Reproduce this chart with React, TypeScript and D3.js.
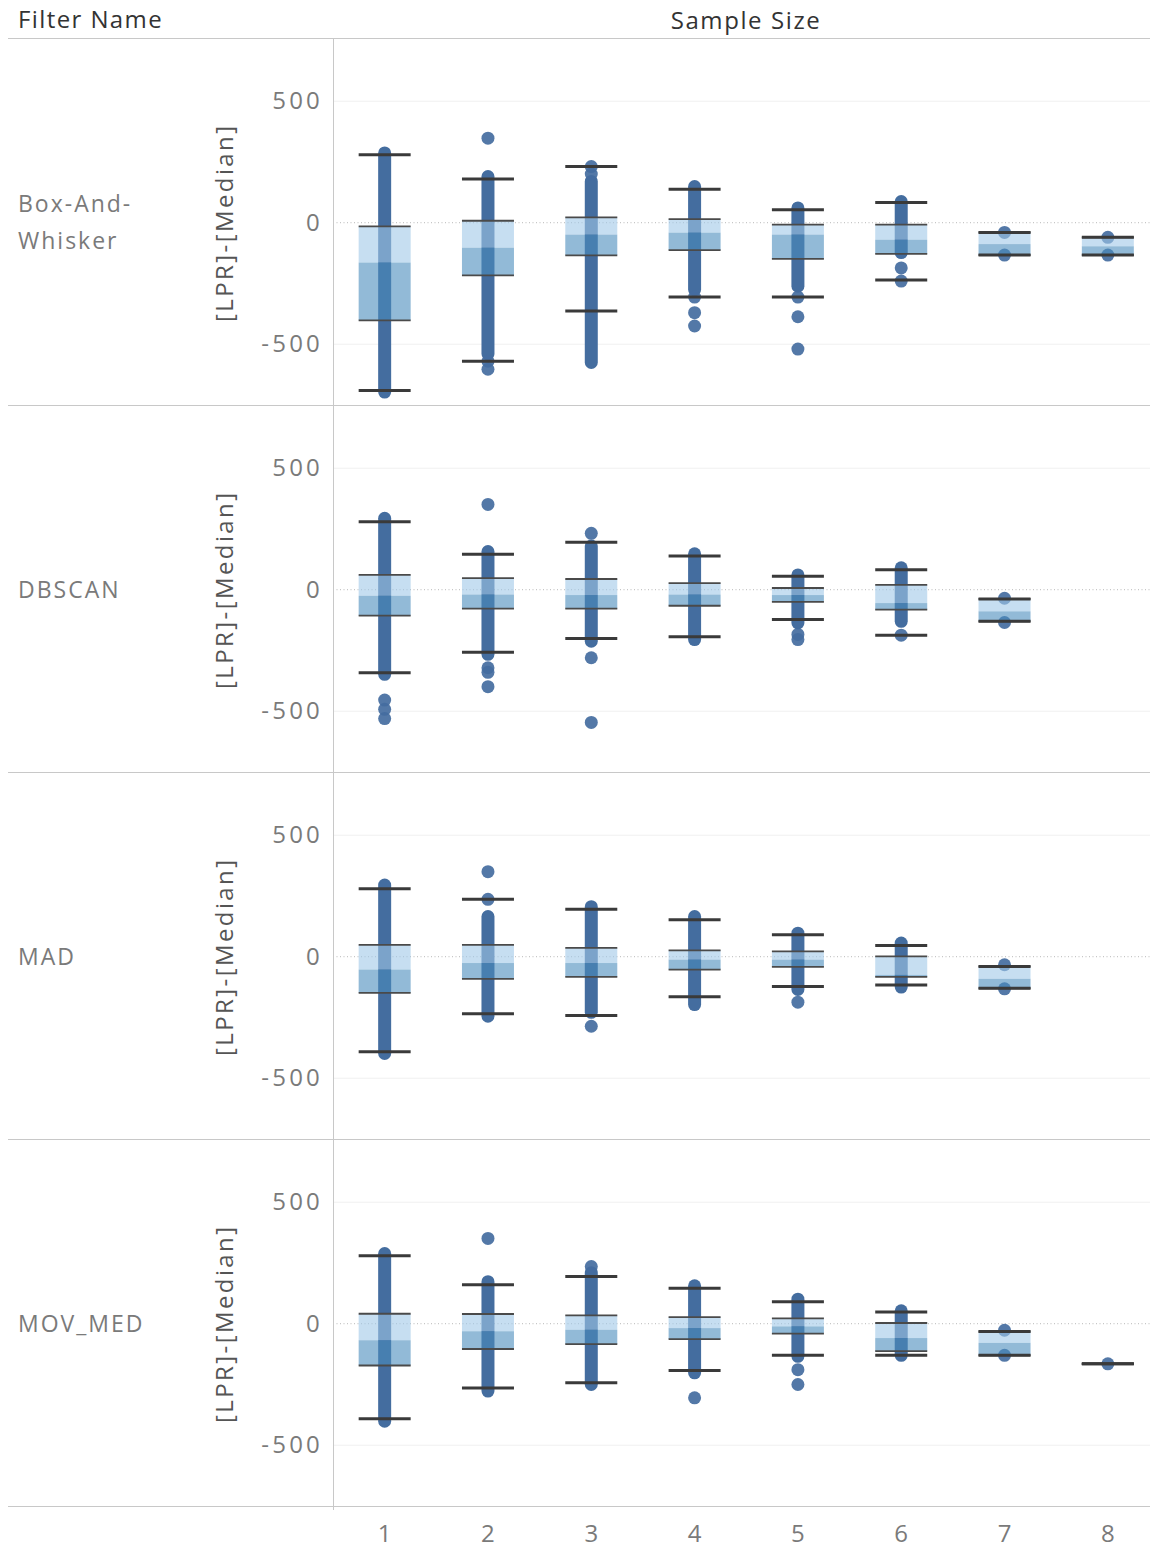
import React from "react";
import * as d3 from "d3";

// Sample sizes along the x axis
const sampleSizes = ["1", "2", "3", "4", "5", "6", "7", "8"];
const filterNames = ["Box-And-Whisker", "DBSCAN", "MAD", "MOV_MED"];
const yTicks = [500, 0, -500];

// Box stats per sample size: [lowerWhisker, q1, median, q3, upperWhisker]
type Stats = [number, number, number, number, number] | null;
const boxAndWhiskerStats: Stats[] = [
  [-690, -402, -164, -15, 280],
  [-570, -217, -103, 8, 180],
  [-363, -134, -49, 22, 231],
  [-306, -113, -41, 15, 138],
  [-306, -149, -49, -8, 53],
  [-236, -128, -70, -8, 83],
  [-133, -133, -88, -40, -40],
  [-133, -133, -97, -60, -60],
];
const dbscanStats: Stats[] = [
  [-342, -107, -25, 61, 280],
  [-257, -78, -20, 48, 146],
  [-201, -78, -22, 44, 195],
  [-194, -66, -20, 27, 139],
  [-123, -50, -22, 7, 55],
  [-187, -82, -55, 20, 82],
  [-130, -130, -89, -38, -38],
  null,
];
const madStats: Stats[] = [
  [-391, -149, -53, 49, 280],
  [-235, -91, -26, 49, 236],
  [-242, -83, -26, 36, 195],
  [-165, -53, -12, 26, 152],
  [-123, -42, -12, 22, 90],
  [-116, -83, -75, 1, 46],
  [-130, -130, -91, -40, -40],
  null,
];
const movMedStats: Stats[] = [
  [-391, -172, -68, 41, 280],
  [-264, -104, -31, 40, 160],
  [-243, -84, -25, 34, 194],
  [-193, -63, -18, 27, 146],
  [-130, -41, -11, 22, 90],
  [-130, -113, -59, 3, 48],
  [-130, -130, -79, -32, -32],
  [-165, -165, -165, -165, -165],
];

// Densely packed runs of observations: [sampleSize, high, low]
type Span = [string, number, number];
const boxAndWhiskerSpans: Span[] = [
  ["1", 287, -697],
  ["2", 190, -540],
  ["3", 170, -575],
  ["4", 149, -275],
  ["5", 61, -261],
  ["6", 87, -123],
];
const dbscanSpans: Span[] = [
  ["1", 294, -348],
  ["2", 157, -266],
  ["3", 180, -212],
  ["4", 148, -205],
  ["5", 61, -137],
  ["6", 90, -130],
];
const madSpans: Span[] = [
  ["1", 295, -398],
  ["2", 165, -245],
  ["3", 206, -229],
  ["4", 165, -197],
  ["5", 97, -135],
  ["6", 56, -125],
];
const movMedSpans: Span[] = [
  ["1", 289, -401],
  ["2", 173, -277],
  ["3", 210, -250],
  ["4", 156, -202],
  ["5", 101, -134],
  ["6", 53, -130],
];

// Individual observations: [sampleSize, value]
type Pt = [string, number];
const boxAndWhiskerPoints: Pt[] = [
  ["2", 348], ["2", -570], ["2", -603],
  ["3", 231], ["3", 200],
  ["4", -306], ["4", -370], ["4", -425],
  ["5", -306], ["5", -387], ["5", -520],
  ["6", -186], ["6", -240],
  ["7", -40], ["7", -133],
  ["8", -60], ["8", -133],
];
const dbscanPoints: Pt[] = [
  ["1", -454], ["1", -492], ["1", -530],
  ["2", 351], ["2", -321], ["2", -340], ["2", -399],
  ["3", 232], ["3", -280], ["3", -546],
  ["5", -184], ["5", -205],
  ["6", -187],
  ["7", -35], ["7", -135],
];
const madPoints: Pt[] = [
  ["2", 350], ["2", 236],
  ["3", -286],
  ["5", -187],
  ["7", -33], ["7", -132],
];
const movMedPoints: Pt[] = [
  ["2", 351],
  ["3", 235],
  ["4", -305],
  ["5", -189], ["5", -250],
  ["7", -27], ["7", -130],
  ["8", -165],
];

const statsByFilter = [boxAndWhiskerStats, dbscanStats, madStats, movMedStats];
const spansByFilter = [boxAndWhiskerSpans, dbscanSpans, madSpans, movMedSpans];
const pointsByFilter = [boxAndWhiskerPoints, dbscanPoints, madPoints, movMedPoints];

const W = 1150;
const H = 1550;
const headerH = 38;
const rowH = 367;
const plotLeft = 333;
const dotColor = "#446d9f";
const font = "'Open Sans', 'Noto Sans', sans-serif";

export default function App() {
  const x = d3.scaleBand<string>().domain(sampleSizes).range([plotLeft, 1159.5]);
  const boxW = 52;
  const r = 6.5;

  return (
    <svg width={W} height={H} style={{ position: "absolute", left: 0, top: 0, background: "#fff" }}>
      {/* header */}
      <text x={18} y={28} fontFamily={font} fontSize={24} letterSpacing={1.4} fill="#333">Filter Name</text>
      <text x={746} y={29} fontFamily={font} fontSize={24} letterSpacing={1.6} fill="#333" textAnchor="middle">Sample Size</text>
      <line x1={8} x2={W} y1={headerH + 0.5} y2={headerH + 0.5} stroke="#c8c8c8" />

      {filterNames.map((name, i) => {
        const top = headerH + i * rowH;
        const y = d3.scaleLinear().domain([-750, 760]).range([top + rowH, top]);
        const stats = statsByFilter[i];
        const words = name === "Box-And-Whisker" ? ["Box-And-", "Whisker"] : [name];
        return (
          <g key={name}>
            {/* row label */}
            {words.map((w, k) => (
              <text key={k} x={18} y={y(0) + 8 + (k - (words.length - 1) / 2) * 37}
                fontFamily={font} fontSize={23} letterSpacing={2} fill="#7a7a7a">{w}</text>
            ))}
            {/* axis title */}
            <text transform={`translate(233,${y(0)}) rotate(-90)`} textAnchor="middle"
              fontFamily={font} fontSize={24} letterSpacing={2.4} fill="#555">[LPR]-[Median]</text>
            {/* grid and ticks */}
            {yTicks.map((t) => (
              <g key={t}>
                {t !== 0 && (
                  <line x1={plotLeft} x2={W} y1={y(t)} y2={y(t)} stroke="#f0f0f0" />
                )}
                <text x={323} y={y(t) + 8} textAnchor="end" fontFamily={font} fontSize={24}
                  letterSpacing={3.2} fill="#7a7a7a">{t}</text>
              </g>
            ))}
            <line x1={plotLeft} x2={W} y1={y(0)} y2={y(0)} stroke="#b8b8b8" strokeDasharray="1 2.5" />

            {/* dense observation runs */}
            {spansByFilter[i].map(([s, hi, lo], k) => (
              <rect key={"s" + k} x={x(s)! + x.bandwidth() / 2 - r} width={2 * r}
                y={y(hi) - r} height={y(lo) - y(hi) + 2 * r} rx={r} fill={dotColor} />
            ))}
            {/* single observations */}
            {pointsByFilter[i].map(([s, v], k) => (
              <circle key={"p" + k} cx={x(s)! + x.bandwidth() / 2} cy={y(v)} r={r}
                fill={dotColor} fillOpacity={0.92} />
            ))}

            {/* boxes */}
            {stats.map((st, k) => {
              if (!st) return null;
              const [lw, q1, med, q3, uw] = st;
              const cx = x(sampleSizes[k])! + x.bandwidth() / 2;
              const x0 = cx - boxW / 2;
              return (
                <g key={"b" + k}>
                  <rect x={x0} width={boxW} y={y(q3)} height={y(med) - y(q3)} fill="#a0c8e8" fillOpacity={0.6} />
                  <rect x={x0} width={boxW} y={y(med)} height={y(q1) - y(med)} fill="#4a8cbc" fillOpacity={0.6} />
                  <line x1={x0} x2={x0 + boxW} y1={y(q3)} y2={y(q3)} stroke="#4a4a4a" strokeWidth={1.8} />
                  <line x1={x0} x2={x0 + boxW} y1={y(q1)} y2={y(q1)} stroke="#4a4a4a" strokeWidth={1.8} />
                  <line x1={x0} x2={x0 + boxW} y1={y(uw)} y2={y(uw)} stroke="#3a3a3a" strokeWidth={3} />
                  <line x1={x0} x2={x0 + boxW} y1={y(lw)} y2={y(lw)} stroke="#3a3a3a" strokeWidth={3} />
                </g>
              );
            })}

            {/* row divider */}
            <line x1={8} x2={W} y1={top + rowH + 0.5} y2={top + rowH + 0.5} stroke="#c8c8c8" />
          </g>
        );
      })}

      {/* pane divider */}
      <line x1={plotLeft + 0.5} x2={plotLeft + 0.5} y1={headerH} y2={headerH + 4 * rowH + 4} stroke="#c8c8c8" />

      {/* x axis labels */}
      {sampleSizes.map((s) => (
        <text key={s} x={x(s)! + x.bandwidth() / 2} y={1542} textAnchor="middle"
          fontFamily={font} fontSize={24} fill="#7a7a7a">{s}</text>
      ))}
    </svg>
  );
}
